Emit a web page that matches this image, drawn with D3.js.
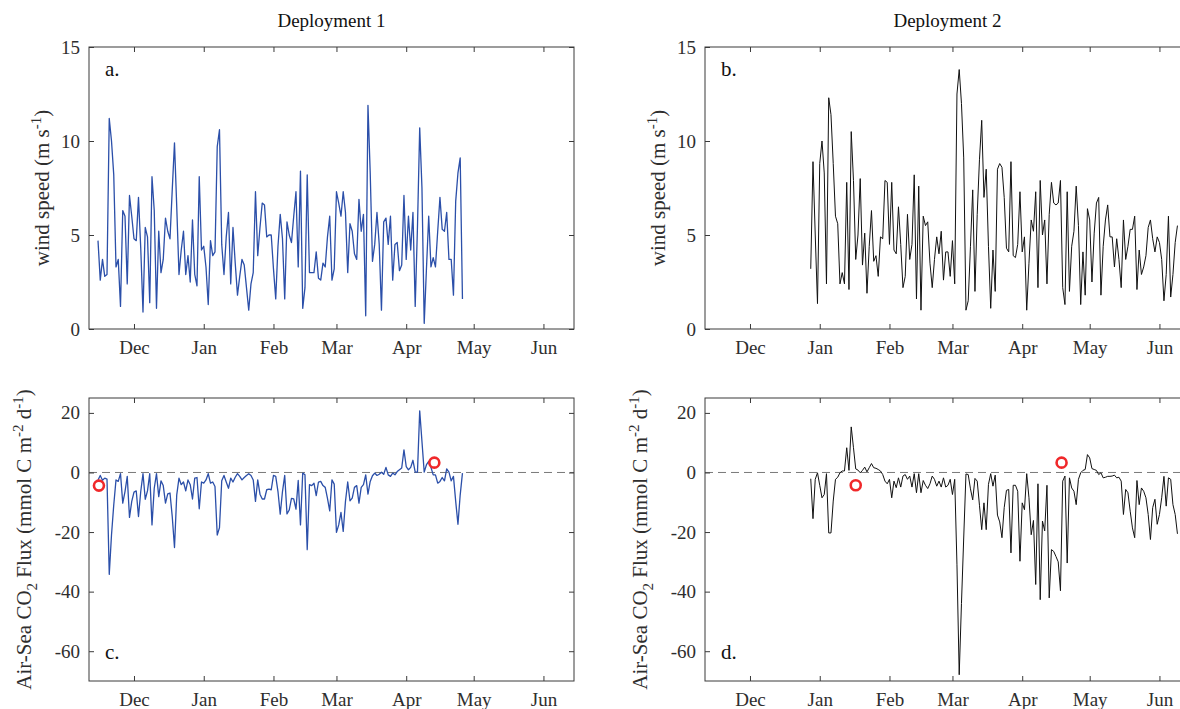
<!DOCTYPE html>
<html>
<head>
<meta charset="utf-8">
<script src="https://cdn.jsdelivr.net/npm/d3@7"></script>
<style>
  body { margin: 0; background: #fff; }
  svg { display: block; font-family: "Liberation Serif", "Times New Roman", serif; }
</style>
</head>
<body>
<svg id="chart" width="1180" height="709"></svg>
<script>
// month ticks and y ticks
const monthTicks = ["2018-12-01", "2019-01-01", "2019-02-01", "2019-03-01", "2019-04-01", "2019-05-01", "2019-06-01"];
const windTicks = [0, 5, 10, 15];
const fluxTicks = [-60, -40, -20, 0, 20];

// daily series, first value at the start date
const dep1Start = "2018-11-15";
const dep2Start = "2018-12-28";

const windDep1 = [4.7,2.6,3.7,2.8,2.9,11.2,10.0,8.2,3.3,3.7,
  1.2,6.3,6.0,2.4,7.1,6.0,4.8,4.7,7.0,4.3,
  0.9,5.4,4.9,1.4,8.1,6.3,1.1,5.2,3.0,3.7,
  5.9,5.2,4.8,7.4,9.9,6.5,2.9,4.2,5.2,2.9,
  3.9,2.5,5.8,2.9,2.3,8.1,4.2,4.4,3.3,1.3,
  4.7,3.9,4.1,9.7,10.6,4.5,2.9,4.9,6.2,2.4,
  5.4,3.5,1.8,2.8,3.7,3.4,2.2,1.0,2.4,3.0,
  7.3,3.9,5.4,6.7,6.6,4.9,5.0,5.0,3.2,1.6,
  4.4,6.1,4.8,1.6,5.7,5.0,4.6,6.0,7.3,3.3,
  8.4,1.1,2.2,8.2,3.0,3.0,3.0,4.1,2.7,2.6,
  3.5,3.3,4.9,6.0,2.6,3.2,7.3,6.7,6.0,7.3,
  6.2,3.0,5.6,5.2,4.0,3.7,6.9,5.2,6.1,0.7,
  11.9,8.3,3.6,4.5,6.2,4.5,1.0,5.7,5.9,4.5,
  6.0,2.6,4.5,4.6,3.1,3.4,7.1,3.7,6.0,4.2,
  6.2,1.2,5.4,10.7,7.5,0.3,3.2,6.0,3.3,3.8,
  3.3,5.2,7.0,5.3,5.2,6.2,3.7,3.7,1.8,6.8,
  8.3,9.1,1.6];

const fluxDep1 = [-2.5,-1.0,-2.6,-1.9,-2.2,-34.2,-21.0,-10.9,-2.5,-3.0,
  -0.4,-10.3,-6.4,-1.3,-15.1,-9.7,-6.6,-6.2,-14.8,-6.4,
  -0.4,-9.0,-6.2,-0.4,-17.6,-5.3,-0.4,-8.1,-2.8,-4.4,
  -10.3,-7.2,-6.9,-14.8,-25.2,-7.5,-1.9,-4.1,-3.2,-6.2,
  -2.5,-4.1,-8.9,-1.9,-1.7,-12.2,-3.2,-3.6,-2.5,-0.4,
  -3.6,-3.2,-4.7,-21.0,-18.5,-2.8,-1.0,-3.2,-5.3,-1.9,
  -3.2,-1.6,-0.4,-1.3,-2.5,-1.7,-1.0,-0.4,-1.0,-2.5,
  -9.7,-2.5,-7.3,-8.9,-8.9,-5.8,-5.6,-5.8,-1.0,-1.3,
  -6.4,-14.0,-6.4,-1.0,-13.9,-12.6,-8.7,-8.9,-12.3,-2.7,
  -17.6,-0.2,-0.8,-25.9,-4.1,-4.4,-3.6,-7.8,-3.2,-3.0,
  -4.4,-5.0,-8.7,-12.9,-2.5,-3.9,-20.1,-17.6,-13.4,-19.8,
  -9.7,-3.2,-9.5,-8.6,-5.0,-4.4,-10.3,-5.0,-4.1,-0.8,
  -7.3,-3.0,-1.1,-0.2,-1.0,-0.6,0.1,-0.6,1.7,-0.8,
  -1.3,-0.2,-0.8,0.3,0.9,1.5,7.6,2.0,0.9,1.7,
  4.1,0.1,0.1,20.7,10.4,0.1,2.6,3.7,1.7,-0.8,
  -0.8,-3.6,-3.0,-1.7,-2.8,1.2,0.1,-2.8,-1.3,-9.7,
  -17.4,-7.5,-0.2];

const windDep2 = [3.2,8.9,5.0,1.35,8.8,10.0,8.3,2.4,12.3,11.4,
  8.8,6.0,5.6,2.4,3.0,2.4,7.8,2.1,10.5,7.9,
  3.7,5.0,8.0,3.4,5.1,1.9,4.4,6.3,3.6,3.9,
  2.8,4.9,4.8,7.9,7.8,4.5,7.8,4.2,4.0,6.5,
  4.5,2.2,2.8,6.1,3.7,4.5,8.2,1.6,7.6,1.0,
  6.0,5.5,5.7,3.5,2.2,3.7,4.9,4.0,5.2,2.6,
  4.1,4.1,2.8,4.7,2.4,12.5,13.8,12.0,9.1,1.0,
  1.5,4.4,7.4,2.0,6.1,9.0,11.1,7.0,8.5,4.4,
  1.1,4.2,2.0,8.5,8.8,8.6,7.0,4.3,4.1,8.9,
  3.9,3.8,4.5,7.3,4.1,4.9,1.0,3.5,5.8,5.2,
  7.3,2.2,7.9,5.0,5.8,2.4,6.1,7.8,6.7,6.6,
  6.7,7.9,2.2,1.3,7.3,2.0,4.4,5.2,7.6,5.5,
  1.3,4.1,1.8,6.4,5.8,2.5,5.1,6.7,7.0,1.8,
  4.4,5.8,6.6,4.9,4.9,3.3,4.8,3.7,2.2,5.8,
  3.7,4.4,5.3,5.3,6.0,2.1,4.2,2.9,3.3,3.9,
  5.4,5.8,4.8,4.1,4.9,4.6,3.7,1.5,2.9,6.0,
  1.7,2.9,4.6,5.5];

const fluxDep2 = [-2.1,-15.5,-2.3,-0.1,-4.3,-8.5,-7.4,-0.4,-20.3,-20.3,
  -9.6,-2.3,-1.6,-0.1,0.5,0.5,8.3,0.7,15.3,8.3,
  1.2,0.8,-0.1,0.7,1.8,0.2,1.6,3.0,1.6,1.4,
  1.0,0.5,-0.7,-2.9,-3.8,-2.3,-8.5,-2.9,-5.1,-1.8,
  -4.9,-1.2,-0.7,-2.3,-1.2,-4.9,-0.4,-6.8,-0.4,-6.8,
  -2.7,-4.3,-5.4,-3.8,-1.2,-2.3,-4.6,-2.9,-4.9,-1.8,
  -4.9,-4.3,-2.3,-7.4,-2.3,-31.0,-67.9,-44.0,-22.0,-0.5,
  -0.7,-5.5,-9.2,-2.0,-2.9,-11.0,-19.2,-10.2,-19.2,-4.0,
  -0.4,-4.6,-0.9,-14.3,-16.6,-21.9,-11.8,-6.0,-5.7,-27.0,
  -4.3,-4.3,-6.3,-29.8,-10.2,-12.5,-0.4,-8.5,-20.9,-16.1,
  -37.6,-3.8,-42.7,-16.3,-19.6,-4.3,-42.1,-25.9,-26.5,-28.2,
  -30.0,-39.7,-2.9,-1.2,-30.4,-1.8,-5.2,-6.3,-10.8,-2.3,
  -0.1,0.7,1.0,6.0,4.9,1.3,1.0,0.7,-0.7,-0.1,
  -1.8,-1.6,-1.3,-1.3,-1.2,-0.9,-1.8,-1.6,-2.9,-14.1,
  -5.7,-6.8,-13.0,-18.6,-21.9,-2.7,-10.8,-5.2,-6.3,-8.5,
  -14.1,-22.5,-11.8,-9.0,-17.4,-14.1,-8.5,-1.3,-11.3,-1.8,
  -2.3,-10.8,-14.1,-20.6];

// red circle markers
const markDates1 = ["2018-11-15T10:00", "2019-04-13T12:00"];
const markVals1 = [-4.4, 3.3];
const markDates2 = ["2019-01-17T00:00", "2019-04-18T12:00"];
const markVals2 = [-4.3, 3.3];

const svg = d3.select("#chart");
svg.append("rect").attr("width", 1180).attr("height", 709).attr("fill", "#fff");

const panelW = 485;
const axisCol = "#3a3a3a";
const textCol = "#2e2e2e";
const fs = 19;
const labelFs = 21, labelSmall = 15;

const x = d3.scaleTime()
  .domain([new Date(2018, 10, 11), new Date(2019, 5, 14, 14)])
  .range([0, panelW]);
const months = monthTicks.map(d3.isoParse);

function styleAxis(g) {
  g.attr("font-family", null).attr("font-size", fs);
  g.select(".domain").remove();
  g.selectAll(".tick line").attr("stroke", axisCol);
  g.selectAll(".tick text").attr("fill", textCol);
}

// rotated label made of pieces, sup / sub shifted
function yLabel(g, tx, ty, parts) {
  const t = g.append("text")
    .attr("transform", "translate(" + tx + "," + ty + ") rotate(-90)")
    .attr("text-anchor", "middle")
    .attr("font-size", labelFs)
    .attr("fill", textCol);
  let shift = 0;
  parts.forEach(function(p) {
    let want = p.sup ? -8 : (p.sub ? 6 : 0);
    t.append("tspan")
      .attr("dy", want - shift)
      .attr("font-size", p.sup || p.sub ? labelSmall : labelFs)
      .text(p.t);
    shift = want;
  });
}

function panel(o) {
  const h = o.bottom - o.top;
  const g = svg.append("g").attr("transform", "translate(" + o.left + "," + o.top + ")");
  const y = d3.scaleLinear().domain(o.yDomain).range([h, 0]);

  if (o.zero) {
    g.append("line")
      .attr("x1", 0).attr("x2", panelW)
      .attr("y1", y(0)).attr("y2", y(0))
      .attr("stroke", "#7a7a7a")
      .attr("stroke-width", 1)
      .attr("stroke-dasharray", "8,5");
  }

  const start = d3.isoParse(o.start);
  const line = d3.line()
    .x(function(d, i) { return x(d3.timeDay.offset(start, i)); })
    .y(function(d) { return y(d); });
  g.append("path")
    .datum(o.values)
    .attr("fill", "none")
    .attr("stroke", o.color)
    .attr("stroke-width", o.lw)
    .attr("stroke-linejoin", "round")
    .attr("d", line);

  if (o.markDates) {
    g.selectAll(".mark")
      .data(o.markDates)
      .enter().append("circle")
      .attr("cx", function(d) { return x(d3.isoParse(d)); })
      .attr("cy", function(d, i) { return y(o.markVals[i]); })
      .attr("r", 5)
      .attr("fill", "none")
      .attr("stroke", "#f0282a")
      .attr("stroke-width", 2.6);
  }

  g.append("g").attr("transform", "translate(0," + h + ")")
    .call(d3.axisBottom(x).tickValues(months).tickFormat(d3.timeFormat("%b"))
      .tickSizeInner(-5).tickSizeOuter(0).tickPadding(12))
    .call(styleAxis);
  g.append("g")
    .call(d3.axisTop(x).tickValues(months).tickFormat("")
      .tickSizeInner(-5).tickSizeOuter(0))
    .call(styleAxis);
  g.append("g")
    .call(d3.axisLeft(y).tickValues(o.yTicks).tickFormat(function(d) { return String(d); })
      .tickSizeInner(-5).tickSizeOuter(0).tickPadding(9))
    .call(styleAxis);
  g.append("g").attr("transform", "translate(" + panelW + ",0)")
    .call(d3.axisRight(y).tickValues(o.yTicks).tickFormat("")
      .tickSizeInner(-5).tickSizeOuter(0))
    .call(styleAxis);

  g.append("rect")
    .attr("width", panelW).attr("height", h)
    .attr("fill", "none")
    .attr("stroke", axisCol)
    .attr("stroke-width", 1);

  g.append("text")
    .attr("x", 16).attr("y", o.letterY)
    .attr("font-size", 21)
    .attr("fill", "#111")
    .text(o.letter);

  yLabel(g, o.labelX, h / 2, o.label);

  if (o.title) {
    g.append("text")
      .attr("x", panelW / 2).attr("y", -20)
      .attr("text-anchor", "middle")
      .attr("font-size", fs)
      .attr("fill", "#111")
      .text(o.title);
  }
}

const windLabel = [{t: "wind speed (m s"}, {t: "-1", sup: true}, {t: ")"}];
const fluxLabel = [{t: "Air-Sea CO"}, {t: "2", sub: true}, {t: " Flux (mmol C m"}, {t: "-2", sup: true},
  {t: " d"}, {t: "-1", sup: true}, {t: ")"}];

const blue = "#2b4fa9";

panel({left: 89, top: 47, bottom: 329, yDomain: [0, 15], yTicks: windTicks, start: dep1Start,
  values: windDep1, color: blue, lw: 1.3, letter: "a.", letterY: 29, label: windLabel, labelX: -40,
  title: "Deployment 1"});
panel({left: 705, top: 47, bottom: 329, yDomain: [0, 15], yTicks: windTicks, start: dep2Start,
  values: windDep2, color: "#111", lw: 1, letter: "b.", letterY: 29, label: windLabel, labelX: -40,
  title: "Deployment 2"});
panel({left: 89, top: 398, bottom: 681, yDomain: [-70, 25], yTicks: fluxTicks, start: dep1Start,
  values: fluxDep1, color: blue, lw: 1.3, letter: "c.", letterY: 261, label: fluxLabel, labelX: -58,
  zero: true, markDates: markDates1, markVals: markVals1});
panel({left: 705, top: 398, bottom: 681, yDomain: [-70, 25], yTicks: fluxTicks, start: dep2Start,
  values: fluxDep2, color: "#111", lw: 1, letter: "d.", letterY: 261, label: fluxLabel, labelX: -58,
  zero: true, markDates: markDates2, markVals: markVals2});
</script>
</body>
</html>
